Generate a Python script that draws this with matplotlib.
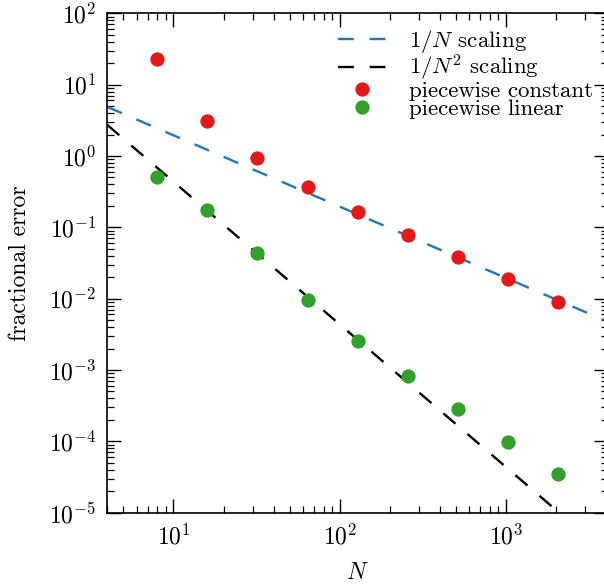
import numpy as np
import matplotlib
matplotlib.use("Agg")
import matplotlib.pyplot as plt
from matplotlib.ticker import LogLocator, FuncFormatter, NullFormatter

plt.rcParams["font.family"] = "serif"
plt.rcParams["font.serif"] = ["cmr10", "DejaVu Serif"]
plt.rcParams["mathtext.fontset"] = "cm"
plt.rcParams["axes.formatter.use_mathtext"] = True

# grid sizes and measured fractional errors
N = [8, 16, 32, 64, 128, 256, 512, 1024, 2048]
err_const = [22.9, 3.13, 0.929, 0.371, 0.166, 0.0789, 0.0384, 0.0189, 0.00908]
err_linear = [0.508, 0.175, 0.0433, 0.00959, 0.00258, 0.000826, 0.000284, 9.9e-5, 3.46e-5]

# reference scaling prefactors
c_first = 19.5
c_second = 43.6

xlim = (4, 4096)
ylim = (1e-5, 1e2)

blue = "#1f78b4"
red = "#e31a1c"
green = "#33a02c"

fig = plt.figure(figsize=(6.04, 5.88), dpi=100)
ax = fig.add_axes([107.3 / 604, 1 - 512.7 / 588, 500.5 / 604, 499.4 / 588])

Nline = np.array(xlim, dtype=float)
ax.plot(Nline, c_first / Nline, color=blue, lw=1.7, dashes=(6.7, 6.7),
        label=r"$1/N$ scaling", zorder=2)
ax.plot(Nline, c_second / Nline**2, color="black", lw=1.7, dashes=(6.7, 6.7),
        label=r"$1/N^2$ scaling", zorder=2)
ax.plot(N, err_const, "o", color=red, ms=10.3, mew=0, label="piecewise constant", zorder=3)
ax.plot(N, err_linear, "o", color=green, ms=10.3, mew=0, label="piecewise linear", zorder=3)

ax.set_xscale("log")
ax.set_yscale("log")
ax.set_xlim(*xlim)
ax.set_ylim(*ylim)

fmt = FuncFormatter(lambda v, p: r"$10^{%d}$" % int(round(np.log10(v))))
for axis in (ax.xaxis, ax.yaxis):
    axis.set_major_locator(LogLocator(base=10, numticks=20))
    axis.set_minor_locator(LogLocator(base=10, subs=np.arange(2, 10), numticks=20))
    axis.set_major_formatter(fmt)
    axis.set_minor_formatter(NullFormatter())

ax.tick_params(which="both", direction="in", top=True, right=True, labelsize=17, pad=8)
ax.tick_params(which="major", length=10, width=1.0)
ax.tick_params(which="minor", length=5, width=0.9)
for s in ax.spines.values():
    s.set_linewidth(1.2)

ax.set_xlabel(r"$N$", fontsize=17, labelpad=9)
ax.set_ylabel("fractional error", fontsize=17, labelpad=12.5)

ax.legend(loc="upper right", frameon=False, fontsize=16.5, handlelength=2.1,
          handletextpad=1.0, labelspacing=-0.1, borderaxespad=0.3, borderpad=0.35)

fig.savefig("out.png", dpi=100)
